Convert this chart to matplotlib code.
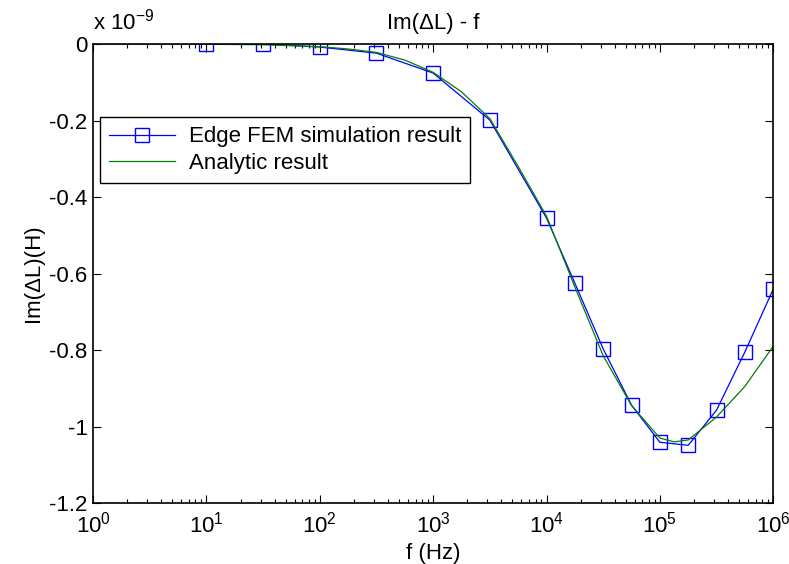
import numpy as np
import matplotlib
matplotlib.use("Agg")
import matplotlib.pyplot as plt
from matplotlib.ticker import FixedLocator, NullFormatter

plt.rcParams["font.family"] = ["Liberation Sans", "DejaVu Sans"]
plt.rcParams["mathtext.fontset"] = "custom"
plt.rcParams["mathtext.rm"] = "Liberation Sans"

# ── Data (Im(ΔL) in units of 1e-9 H) ────────────────────
fem_f = [1e1, 10**1.5, 1e2, 10**2.5, 1e3, 10**3.5, 1e4, 10**4.25,
         10**4.5, 10**4.75, 1e5, 10**5.25, 10**5.5, 10**5.75, 1e6]
fem_im = [0.0, 0.0, -0.008, -0.024, -0.076, -0.199, -0.455, -0.625,
          -0.797, -0.944, -1.041, -1.049, -0.957, -0.805, -0.641]

ana_logf = [0.0, 0.5, 1.0, 1.5, 2.0, 2.25, 2.5, 2.75, 3.0, 3.25, 3.5,
            3.75, 4.0, 4.25, 4.5, 4.75, 5.0, 5.125, 5.25, 5.5, 5.75, 6.0]
ana_im = [0.0, -0.0002, -0.0006, -0.002, -0.007, -0.013, -0.022, -0.042,
          -0.074, -0.125, -0.195, -0.320, -0.450, -0.635, -0.815, -0.945,
          -1.030, -1.040, -1.035, -0.975, -0.895, -0.790]

x_decades = [0, 1, 2, 3, 4, 5, 6]
y_ticks = [-1.2, -1.0, -0.8, -0.6, -0.4, -0.2, 0.0]
y_labels = ["-1.2", "-1", "-0.8", "-0.6", "-0.4", "-0.2", "0"]

FS = 16

fig = plt.figure(figsize=(7.89, 5.64), dpi=100)
ax = fig.add_axes([0.118, 0.108, 0.862, 0.814])

ax.semilogx(fem_f, fem_im, color="#0000ff", lw=0.9, marker="s",
            markersize=10.5, markerfacecolor="none", markeredgecolor="#0000ff",
            markeredgewidth=1.0, label="Edge FEM simulation result")
ax.semilogx([10**v for v in ana_logf], ana_im, color="#008000", lw=0.9,
            label="Analytic result")

ax.set_xlim(1, 1e6)
ax.set_ylim(-1.2, 0)
ax.xaxis.set_major_locator(FixedLocator([10.0**d for d in x_decades]))
ax.set_xticklabels([r"10$^{%d}$" % d for d in x_decades])
minor = [m * 10.0**d for d in x_decades[:-1] for m in range(2, 10)]
ax.xaxis.set_minor_locator(FixedLocator(minor))
ax.xaxis.set_minor_formatter(NullFormatter())
ax.yaxis.set_major_locator(FixedLocator(y_ticks))
ax.set_yticklabels(y_labels)

ax.tick_params(which="both", direction="in", top=True, right=True,
               labelsize=FS, width=0.8, color="black")
ax.tick_params(which="major", length=6, pad=4)
ax.tick_params(axis="x", which="major", pad=6)
ax.tick_params(which="minor", length=3)
for sp in ax.spines.values():
    sp.set_linewidth(1.2)

ax.set_title("Im(ΔL) - f", fontsize=FS, pad=11)
ax.set_xlabel("f (Hz)", fontsize=FS, labelpad=4)
ax.set_ylabel("Im(ΔL)(H)", fontsize=FS, labelpad=4)
ax.text(0.0, 1.02, r"x 10$^{-9}$", transform=ax.transAxes, fontsize=FS,
        ha="left", va="bottom")

leg = ax.legend(loc="upper left", bbox_to_anchor=(0.010, 0.840), fontsize=FS,
                frameon=True, fancybox=False, borderaxespad=0,
                handlelength=3.0, borderpad=0.4, labelspacing=0.25,
                handletextpad=0.6)
leg.get_frame().set_edgecolor("black")
leg.get_frame().set_linewidth(1.0)
leg.get_frame().set_alpha(1.0)

fig.savefig("out.png", dpi=100)
